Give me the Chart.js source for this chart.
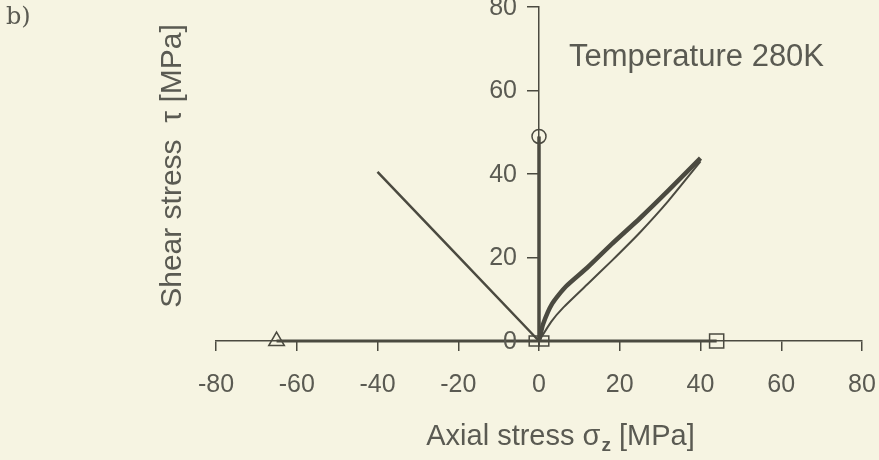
<!DOCTYPE html>
<html>
<head>
<meta charset="utf-8">
<script src="https://cdn.jsdelivr.net/npm/chart.js@4"></script>
<style>
  html, body { margin: 0; padding: 0; background: #f6f4e2; }
  #wrap { width: 879px; height: 460px; position: relative; }
</style>
</head>
<body>
<div id="wrap"><canvas id="stressChart" width="879" height="460"></canvas></div>
<script>
// axis ticks
const xTicks = [-80, -60, -40, -20, 0, 20, 40, 60, 80];
const yTicks = [0, 20, 40, 60, 80];

// torsion path up the shear axis
const torsionX = [0, 0];
const torsionY = [0, 49];

// axial path along sigma_z
const axialX = [-65, 44];
const axialY = [0, 0];

// combined path to the left
const leftX = [0, -40];
const leftY = [0, 40.5];

// combined path to the right, loading branch (upper)
const upperX = [0, 1, 3.3, 6.6, 12, 18, 25, 32, 40];
const upperY = [0, 4, 9, 13, 17.6, 23.2, 29.4, 36, 43.8];

// unloading branch (lower)
const lowerX = [40, 32, 25, 18, 12, 6, 3, 0];
const lowerY = [43, 33.5, 26, 19.2, 13.6, 8, 4.6, 0];

// end markers
const markerX = [-65, 44, -1.2, 1.2, 0];
const markerY = [0, 0, 0, 0, 49];
const markerStyle = ['triangle', 'rect', 'rect', 'rect', 'circle'];
const markerSize = [9, 10, 7, 7, 7];

const ink = '#4b4a40';
const textGrey = '#5a5a52';
const sans = '"Liberation Sans", Arial, sans-serif';

function toPoints(xs, ys) {
    return xs.map((x, i) => ({ x: x, y: ys[i] }));
}

function lineSet(xs, ys, width) {
    return {
        data: toPoints(xs, ys),
        borderColor: ink,
        borderWidth: width,
        pointRadius: 0,
        showLine: true,
        fill: false,
        clip: false,
        tension: 0.2
    };
}

// extra labels that are not part of the axes
const labelsPlugin = {
    id: 'labels',
    afterDraw(chart) {
        const ctx = chart.ctx;
        const yScale = chart.scales.y;
        const xScale = chart.scales.x;
        ctx.save();
        ctx.fillStyle = textGrey;

        // y tick labels, left of the centred axis
        ctx.font = '25px ' + sans;
        ctx.textAlign = 'right';
        ctx.textBaseline = 'middle';
        const axisX = xScale.getPixelForValue(0);
        yTicks.forEach(v => {
            ctx.fillText(String(v), axisX - 22, yScale.getPixelForValue(v) + 1);
        });

        ctx.font = '24px "DejaVu Serif", serif';
        ctx.textAlign = 'left';
        ctx.fillText('b)', 6, 18);

        ctx.font = '31px ' + sans;
        ctx.fillText('Temperature 280K', 569, 57);

        // y title
        ctx.save();
        ctx.translate(173, 166);
        ctx.rotate(-Math.PI / 2);
        ctx.textAlign = 'center';
        ctx.font = '30px ' + sans;
        ctx.fillText('Shear stress  \u03c4 [MPa]', 0, 0);
        ctx.restore();

        // x title with subscript
        const main = 'Axial stress \u03c3';
        const sub = 'z';
        const rest = ' [MPa]';
        const big = '29px ' + sans;
        const small = 'bold 19px ' + sans;
        ctx.font = big;
        const w1 = ctx.measureText(main).width;
        const w3 = ctx.measureText(rest).width;
        ctx.font = small;
        const w2 = ctx.measureText(sub).width;
        const x0 = 560 - (w1 + w2 + w3) / 2;
        ctx.textAlign = 'left';
        ctx.font = big;
        ctx.fillText(main, x0, 437);
        ctx.font = small;
        ctx.fillText(sub, x0 + w1 + 1, 446);
        ctx.font = big;
        ctx.fillText(rest, x0 + w1 + w2 + 1, 437);
        ctx.restore();
    }
};

const bgPlugin = {
    id: 'bg',
    beforeDraw(chart) {
        const ctx = chart.ctx;
        ctx.save();
        ctx.fillStyle = '#f6f4e2';
        ctx.fillRect(0, 0, chart.width, chart.height);
        ctx.restore();
    }
};

new Chart(document.getElementById('stressChart'), {
    type: 'scatter',
    data: {
        datasets: [
            lineSet(axialX, axialY, 3),
            lineSet(torsionX, torsionY, 3.5),
            lineSet(leftX, leftY, 2.5),
            lineSet(upperX, upperY, 4.5),
            lineSet(lowerX, lowerY, 2),
            {
                data: toPoints(markerX, markerY),
                showLine: false,
                pointStyle: markerStyle,
                pointRadius: markerSize,
                pointBorderColor: ink,
                pointBackgroundColor: 'rgba(0,0,0,0)',
                pointBorderWidth: 1.5,
                clip: false
            }
        ]
    },
    options: {
        responsive: false,
        animation: false,
        layout: { autoPadding: false, padding: { left: 216, right: 17, top: 7, bottom: 0 } },
        plugins: {
            legend: { display: false },
            tooltip: { enabled: false }
        },
        scales: {
            x: {
                type: 'linear',
                position: 'bottom',
                min: -80,
                max: 80,
                afterFit(scale) {
                    scale.height = 119;
                    scale.paddingLeft = 0;
                    scale.paddingRight = 0;
                },
                afterBuildTicks(scale) { scale.ticks = xTicks.map(v => ({ value: v })); },
                border: { color: ink, width: 1.5 },
                grid: { drawOnChartArea: false, drawTicks: true, tickLength: 10, color: ink, lineWidth: 1.5 },
                ticks: { font: { family: sans, size: 25 }, color: textGrey, padding: 19, maxRotation: 0 }
            },
            y: {
                type: 'linear',
                position: { x: 0 },
                min: 0,
                max: 80,
                afterFit(scale) {
                    scale.paddingTop = 0;
                    scale.paddingBottom = 0;
                    scale.paddingLeft = 0;
                    scale.paddingRight = 0;
                },
                afterBuildTicks(scale) { scale.ticks = yTicks.map(v => ({ value: v })); },
                border: { color: ink, width: 1.5 },
                grid: { drawOnChartArea: false, drawTicks: true, tickLength: 11, color: ink, lineWidth: 1.5 },
                ticks: { display: false }
            }
        }
    },
    plugins: [bgPlugin, labelsPlugin]
});
</script>
</body>
</html>
